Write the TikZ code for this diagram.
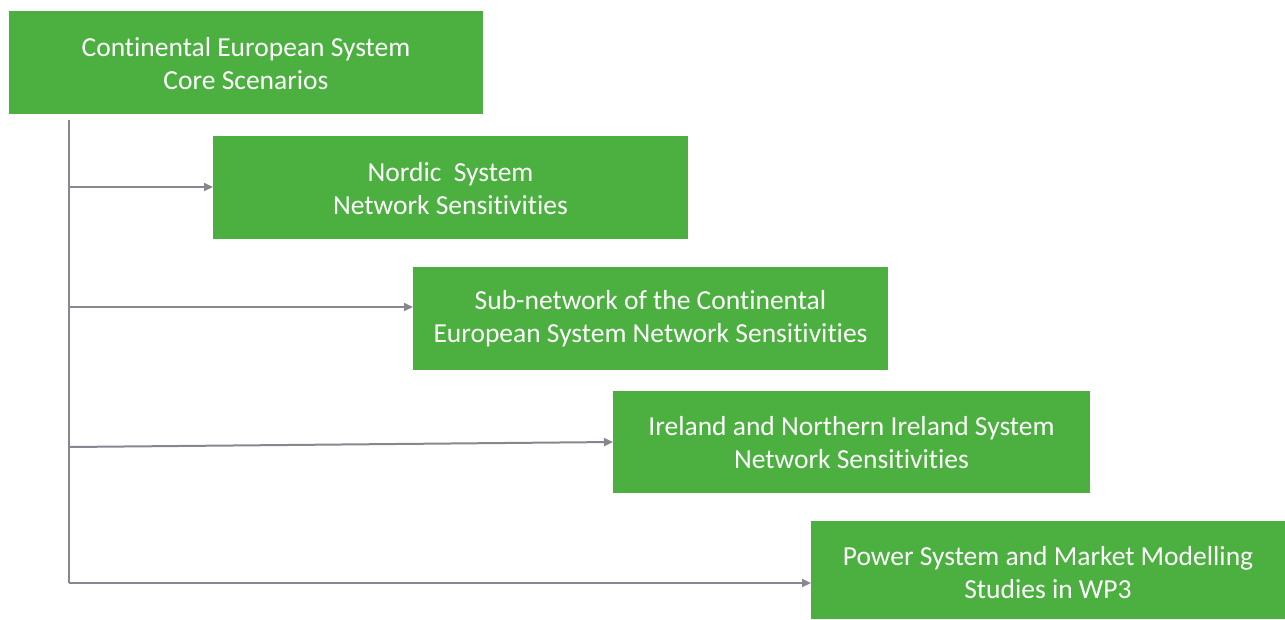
\documentclass[tikz,border=0pt]{standalone}
\usepackage{fontspec}
\setmainfont{Carlito}[Ligatures={NoCommon}]
\usetikzlibrary{arrows.meta}
\definecolor{boxgreen}{RGB}{76,176,64}
\definecolor{linkgray}{RGB}{135,135,145}
\begin{document}
\begin{tikzpicture}[x=1pt,y=-1pt,
  stagebox/.style={fill=boxgreen, draw=none, text=white, align=center,
    font=\fontsize{27.5}{33}\selectfont, inner sep=0pt},
  link/.style={draw=linkgray, line width=2pt,
    -{Triangle[length=9pt,width=8pt]}}]
\useasboundingbox (0,0) rectangle (1285,619);
% stage boxes
\fill[boxgreen] (9,11) rectangle (483,114);
\node[stagebox] (core) at (246,63.5) {Continental European System\\Core Scenarios};
\fill[boxgreen] (213,136) rectangle (688,239);
\node[stagebox] (nordic) at (450.5,188.5) {Nordic\ \ System\\Network Sensitivities};
\fill[boxgreen] (413,267) rectangle (888,370);
\node[stagebox] (sub) at (650.5,318.5) {Sub-network of the Continental\\European System Network Sensitivities};
\fill[boxgreen] (613,391) rectangle (1090,493);
\node[stagebox] (ire) at (851.5,442.5) {Ireland and Northern Ireland System\\Network Sensitivities};
\fill[boxgreen] (811,521) rectangle (1285,619);
\node[stagebox] (wp3) at (1048,573) {Power System and Market Modelling\\Studies in WP3};
% trunk and branches
\coordinate (top) at (69,120);
\coordinate (b1) at (69,187);
\coordinate (b2) at (69,307);
\coordinate (b3) at (69,447);
\coordinate (b4) at (69,583);
\coordinate (e1) at (213,187);
\coordinate (e2) at (413,307);
\coordinate (e3) at (613,442);
\coordinate (e4) at (811,583);
\draw[draw=linkgray, line width=2pt] (top) -- (b4);
\draw[link] (b1) -- (e1);
\draw[link] (b2) -- (e2);
\draw[link] (b3) -- (e3);
\draw[link] (b4) -- (e4);
\end{tikzpicture}
\end{document}
